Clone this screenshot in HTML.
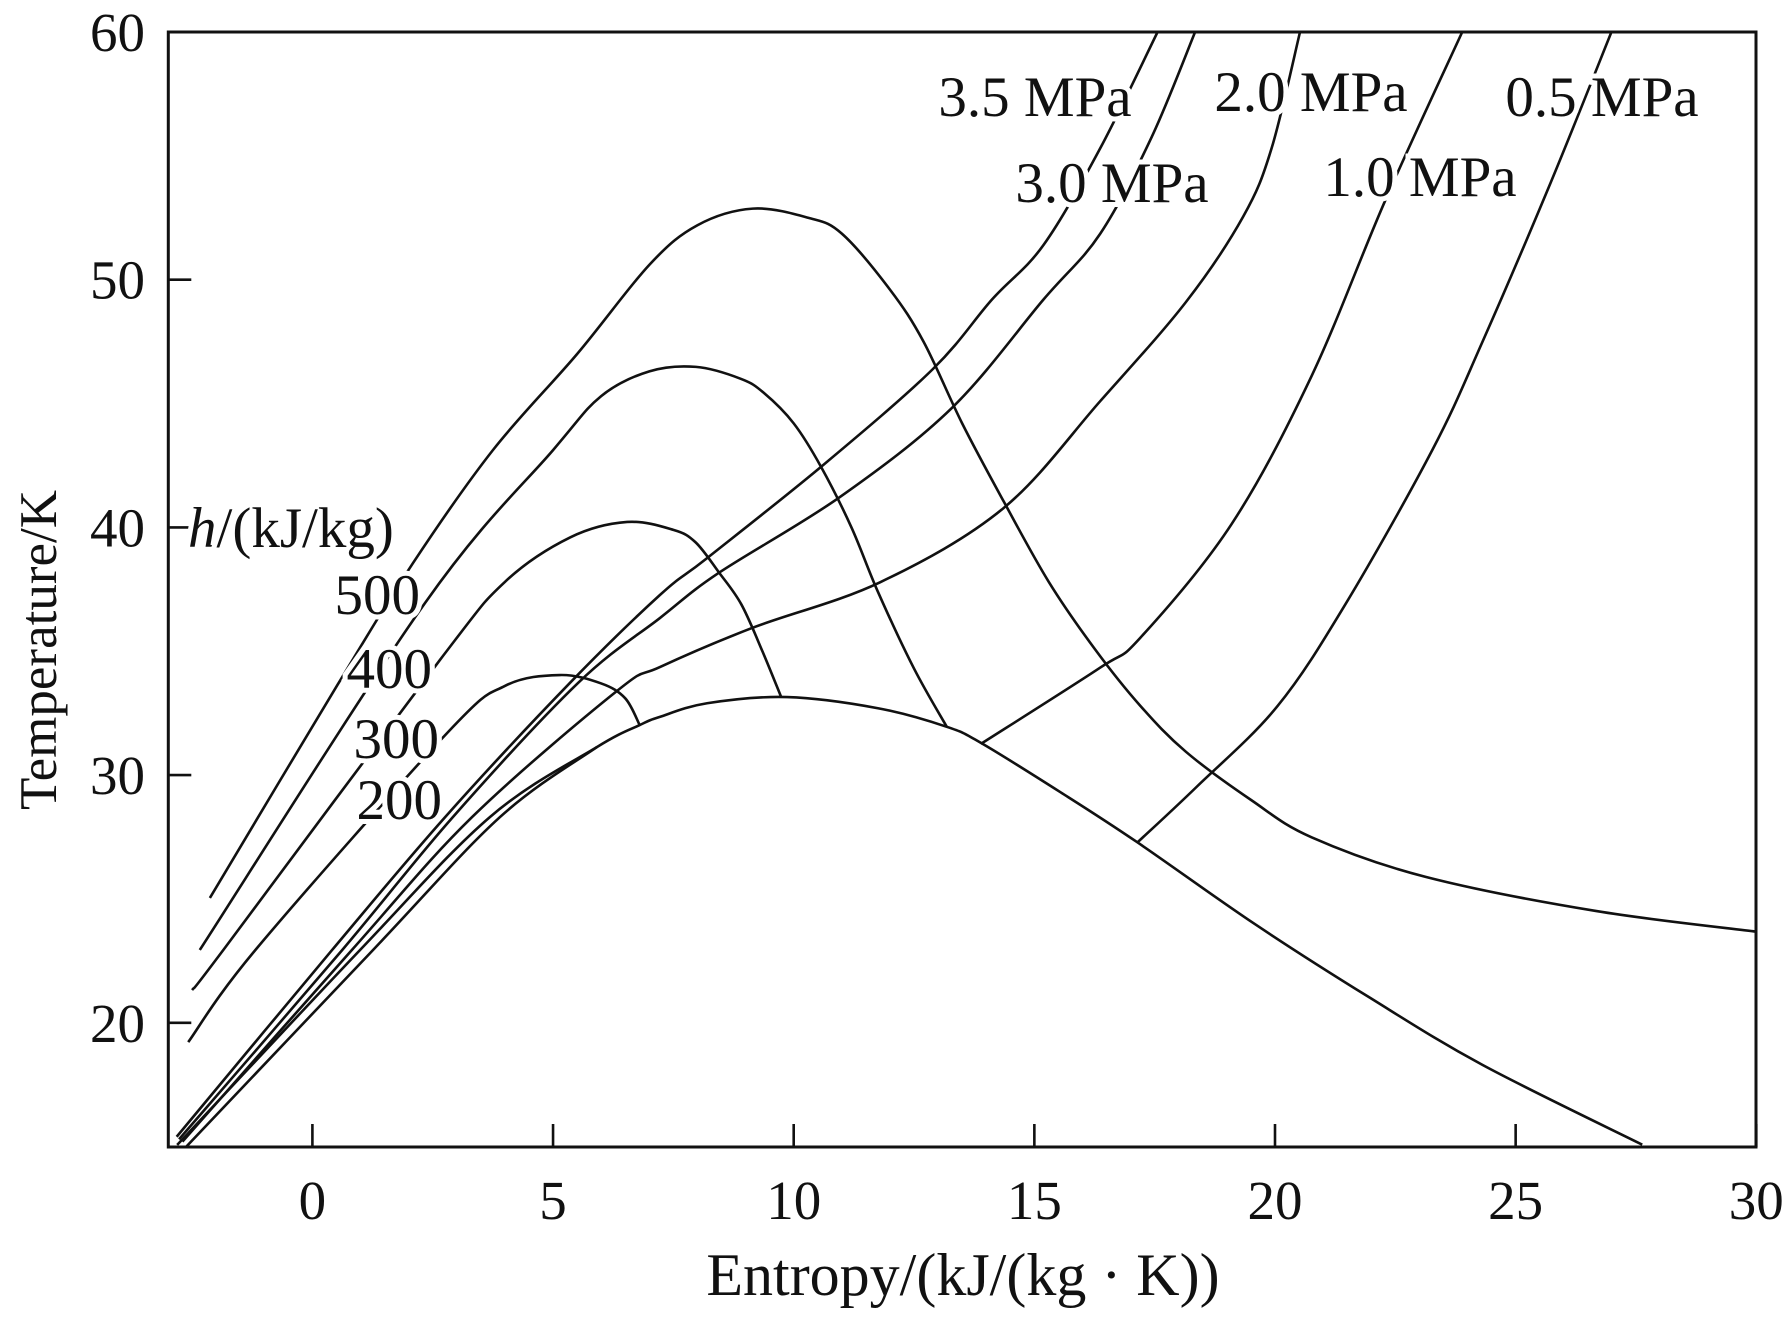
<!DOCTYPE html>
<html><head><meta charset="utf-8"><style>
html,body{margin:0;padding:0;background:#fff;}
svg{display:block;font-family:"Liberation Serif",serif;}
</style></head><body>
<svg id="chart" width="1788" height="1318" viewBox="0 0 1788 1318" xmlns="http://www.w3.org/2000/svg">
<g id="curves"></g>
<g id="axes"></g>
<g id="labels"></g>
</svg>
<script>
const xTicks = [0,5,10,15,20,25,30];
const yTicks = [20,30,40,50,60];
const dome = [[-2.81,15.07],[0.99,22.94],[3.69,28.31],[5.91,31.13],[6.80,32.02],[7.22,32.35],[8.2,32.9],[9.86,33.15],[11.75,32.7],[13.18,31.95],[13.89,31.3],[15.55,29.3],[17.13,27.3],[19.57,24.0],[21.94,21.05],[24.31,18.3],[27.63,15.08]];
const liquid = [[-2.62,15.0],[1.26,22.94],[3.90,28.31],[5.91,31.13]];
const p35 = [[-2.82,15.4],[0.41,22.94],[2.76,28.31],[5.35,33.72],[7.22,37.27],[8.20,38.76],[10.62,42.53],[12.89,46.39],[14.12,49.2],[15.19,51.4],[16.37,55.31],[17.56,60]];
const p30 = [[-2.77,15.3],[0.62,22.94],[2.92,28.31],[5.52,33.72],[7.22,36.34],[8.44,38.16],[10.97,41.24],[13.29,44.83],[15.19,49.2],[16.37,51.86],[17.44,55.77],[18.34,60]];
const p20 = [[-2.70,15.2],[0.82,22.94],[3.32,28.31],[6.33,33.4],[7.22,34.36],[9.15,35.95],[11.80,37.79],[14.36,40.78],[16.37,45.1],[18.15,49.1],[19.34,52.55],[19.93,55.31],[20.52,60]];
const p10 = [[13.89,31.26],[16.37,34.34],[17.2,35.54],[19.10,40.14],[20.76,46.11],[22.30,53.24],[23.89,60]];
const p05 = [[17.13,27.26],[18.39,29.56],[20.05,32.78],[21.47,36.92],[23.27,43.13],[24.31,47.49],[25.73,53.93],[26.99,60]];
const h500 = [[-2.13,25.04],[0.52,33.64],[2.09,38.56],[3.75,43.12],[5.5,47.0],[7.0,50.6],[8.0,52.2],[9.15,52.87],[10.3,52.5],[11.0,51.86],[12.0,49.6],[12.7,47.49],[13.5,44.2],[14.36,41.06],[15.3,37.8],[16.26,35.08],[17.2,32.8],[18.15,30.94],[19.5,29.0],[20.76,27.49],[23.13,25.89],[26.68,24.51],[30,23.68]];
const h400 = [[-2.34,22.94],[2.34,36.95],[5.0,43.12],[6.0,45.3],[7.0,46.3],[7.97,46.48],[8.9,46.0],[9.38,45.43],[10.0,44.2],[10.57,42.44],[11.2,40.0],[11.75,37.4],[12.5,34.3],[13.18,31.95]];
const h300 = [[-2.50,21.32],[-1.82,23.02],[2.65,34.65],[4.0,37.8],[5.36,39.6],[6.54,40.22],[7.5,39.9],[7.96,39.4],[8.44,38.2],[8.91,36.9],[9.35,35.0],[9.74,33.15]];
const h200 = [[-2.58,19.22],[-1.15,23.02],[2.80,31.7],[4.0,33.6],[5.14,34.04],[6.0,33.7],[6.5,33.1],[6.80,32.02]];

const L=168.3, R=1756, TOP=32, BOT=1147;
const xMin=-3, xMax=30, yMin=15, yMax=60;
const X = s => 312.4 + s*48.13;
const Y = t => TOP + (yMax - t)*24.77;
const NS="http://www.w3.org/2000/svg";
function mk(tag, attrs, parent){const e=document.createElementNS(NS,tag);for(const k in attrs)e.setAttribute(k,attrs[k]);parent.appendChild(e);return e;}

function pathD(pts){
  const p = pts.map(d=>[X(d[0]),Y(d[1])]);
  let d = `M${p[0][0]},${p[0][1]}`;
  for(let i=0;i<p.length-1;i++){
    const p0=p[i-1]||p[i], p1=p[i], p2=p[i+1], p3=p[i+2]||p2;
    const c1=[p1[0]+(p2[0]-p0[0])/6, p1[1]+(p2[1]-p0[1])/6];
    const c2=[p2[0]-(p3[0]-p1[0])/6, p2[1]-(p3[1]-p1[1])/6];
    d += ` C${c1[0]},${c1[1]} ${c2[0]},${c2[1]} ${p2[0]},${p2[1]}`;
  }
  return d;
}
const curves = document.getElementById('curves');
const series = [
 [dome,'saturation-dome'],[liquid,'liquid-line'],[p35,'isobar-3-5-mpa'],[p30,'isobar-3-0-mpa'],[p20,'isobar-2-0-mpa'],
 [p10,'isobar-1-0-mpa'],[p05,'isobar-0-5-mpa'],[h500,'isenthalp-500'],[h400,'isenthalp-400'],[h300,'isenthalp-300'],[h200,'isenthalp-200']];
const clip = mk('clipPath',{id:'pc'},document.getElementById('chart'));
mk('rect',{x:L,y:TOP,width:R-L,height:BOT-TOP},clip);
series.forEach(([pts,name])=>{
  const el = mk('path',{d:pathD(pts),fill:'none',stroke:'#111','stroke-width':2.6,'clip-path':'url(#pc)'},curves);
  
  
});

const axes = document.getElementById('axes');
const frame = mk('rect',{x:L,y:TOP,width:R-L,height:BOT-TOP,fill:'none',stroke:'#111','stroke-width':3},axes);


xTicks.forEach(v=>{
  const t = mk('line',{x1:X(v),x2:X(v),y1:BOT,y2:BOT-23,stroke:'#111','stroke-width':2.6},axes);
  
  
  const tx = mk('text',{x:X(v),y:1219,'font-size':55,'text-anchor':'middle',fill:'#111'},axes);
  tx.textContent = v;
  
  
});
yTicks.forEach(v=>{
  const t = mk('line',{x1:L,x2:L+23,y1:Y(v),y2:Y(v),stroke:'#111','stroke-width':2.6},axes);
  
  
  const tx = mk('text',{x:145,y:Y(v)+19,'font-size':55,'text-anchor':'end',fill:'#111'},axes);
  tx.textContent = v;
  
  
});
</script>
<svg style="position:absolute;left:0;top:0" width="1788" height="1318">
<g font-family="Liberation Serif, serif" fill="#111" font-size="57" stroke="#fff" stroke-width="10" paint-order="stroke">
<text x="963" y="1295" text-anchor="middle" stroke="none" font-size="60">Entropy/(kJ/(kg · K))</text>
<text transform="translate(56,650) rotate(-90)" text-anchor="middle" stroke="none" font-size="53">Temperature/K</text>
<text x="1035" y="116" text-anchor="middle">3.5 MPa</text>
<text x="1311" y="111" text-anchor="middle">2.0 MPa</text>
<text x="1602" y="116" text-anchor="middle">0.5 MPa</text>
<text x="1112" y="202" text-anchor="middle">3.0 MPa</text>
<text x="1420" y="196" text-anchor="middle">1.0 MPa</text>
<text x="188" y="547"><tspan font-style="italic">h</tspan>/(kJ/kg)</text>
<text x="420" y="614" text-anchor="end">500</text>
<text x="432" y="688" text-anchor="end">400</text>
<text x="439" y="758" text-anchor="end">300</text>
<text x="442" y="819" text-anchor="end">200</text>
</g>
</svg>
</body></html>
